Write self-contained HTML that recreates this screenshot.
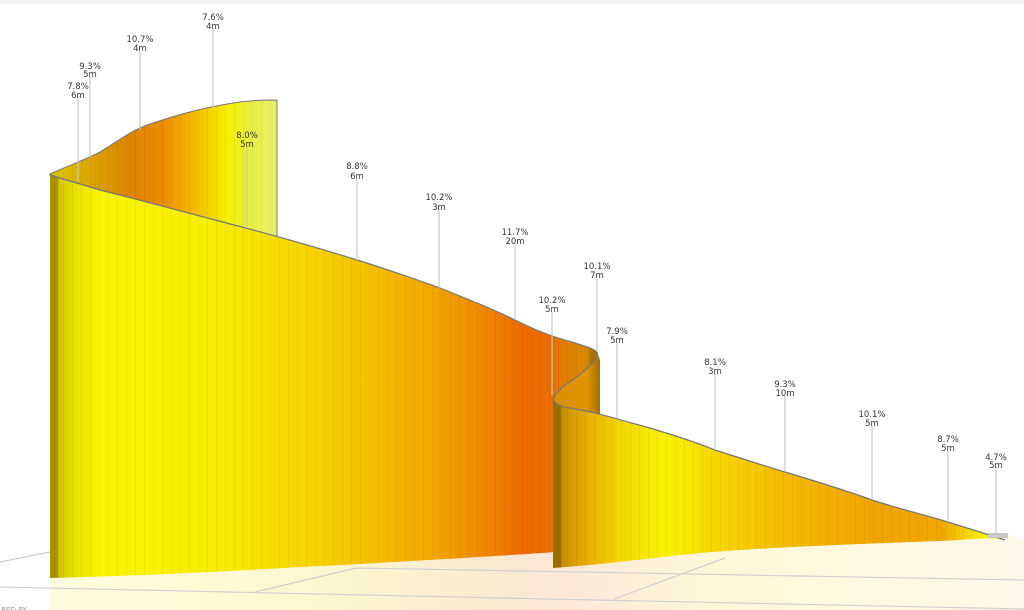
<!DOCTYPE html>
<html><head><meta charset="utf-8"><style>
html,body{margin:0;padding:0;background:#fff;width:1024px;height:610px;overflow:hidden}
svg{display:block}
text{font-family:"DejaVu Sans","Liberation Sans",sans-serif;font-size:8.5px;fill:#333;text-anchor:middle}
</style></head><body>
<svg width="1024" height="610" viewBox="0 0 1024 610" xmlns="http://www.w3.org/2000/svg">
<defs>
<linearGradient id="g1" x1="50" x2="600" y1="0" y2="0" gradientUnits="userSpaceOnUse">
<stop offset="0" stop-color="#a89400"/><stop offset="0.014" stop-color="#a89400"/>
<stop offset="0.016" stop-color="#d0c400"/><stop offset="0.045" stop-color="#e8e000"/>
<stop offset="0.09" stop-color="#fbf500"/><stop offset="0.28" stop-color="#f8ee00"/>
<stop offset="0.42" stop-color="#f6dc00"/><stop offset="0.56" stop-color="#f5c400"/>
<stop offset="0.69" stop-color="#f2a800"/><stop offset="0.8" stop-color="#ef8400"/>
<stop offset="0.86" stop-color="#ec6a00"/><stop offset="0.91" stop-color="#ec6c00"/>
<stop offset="0.93" stop-color="#e07c00"/><stop offset="0.975" stop-color="#d88a00"/>
<stop offset="0.985" stop-color="#a87000"/><stop offset="1" stop-color="#a87000"/>
</linearGradient>
<linearGradient id="gb" x1="50" x2="277" y1="0" y2="0" gradientUnits="userSpaceOnUse">
<stop offset="0" stop-color="#d8c800"/><stop offset="0.2" stop-color="#dca000"/>
<stop offset="0.35" stop-color="#dc8400"/><stop offset="0.5" stop-color="#ec8c00"/>
<stop offset="0.65" stop-color="#f4c000"/><stop offset="0.78" stop-color="#f6f000"/>
<stop offset="0.88" stop-color="#e8ef40"/><stop offset="1" stop-color="#e8f070"/>
</linearGradient>
<linearGradient id="g2" x1="553" x2="1010" y1="0" y2="0" gradientUnits="userSpaceOnUse">
<stop offset="0" stop-color="#9a7000"/><stop offset="0.016" stop-color="#9a7000"/>
<stop offset="0.02" stop-color="#c89000"/><stop offset="0.08" stop-color="#eab000"/>
<stop offset="0.15" stop-color="#f2d800"/><stop offset="0.25" stop-color="#f8f200"/>
<stop offset="0.35" stop-color="#f6d800"/><stop offset="0.5" stop-color="#f4bc00"/>
<stop offset="0.7" stop-color="#f1a400"/><stop offset="0.85" stop-color="#f0a600"/>
<stop offset="0.9" stop-color="#f4d000"/><stop offset="0.95" stop-color="#f8f400"/>
<stop offset="1" stop-color="#e0e060"/>
</linearGradient>
<linearGradient id="gs" x1="556" x2="600" y1="0" y2="0" gradientUnits="userSpaceOnUse">
<stop offset="0" stop-color="#d89000"/><stop offset="0.7" stop-color="#e09400"/><stop offset="1" stop-color="#a07000"/>
</linearGradient>
<linearGradient id="fl" x1="0" x2="1024" y1="0" y2="0" gradientUnits="userSpaceOnUse">
<stop offset="0" stop-color="#fffce0"/><stop offset="0.3" stop-color="#fdf8d0"/>
<stop offset="0.5" stop-color="#fbe8d0"/><stop offset="0.56" stop-color="#fde8d8"/>
<stop offset="0.7" stop-color="#fdf8d8"/><stop offset="1" stop-color="#fff8e8"/>
</linearGradient>
<pattern id="st" width="9" height="10" patternUnits="userSpaceOnUse">
<rect x="0" y="0" width="1" height="10" fill="#000" fill-opacity="0.05"/>
</pattern>
</defs>
<rect x="0" y="0" width="1024" height="4" fill="#f0f0f0"/>
<path d="M50,578 L555,552 L555,568 L700,553 L1010,535 L1024,540 L1024,610 L50,610 Z" fill="url(#fl)"/>
<g stroke="#d0d0d0" stroke-width="1.2" fill="none">
<path d="M0,562 L50,552"/>
<path d="M0,587 L548,599 L1024,609"/>
<path d="M255,592 L356,568 L1024,580"/>
<path d="M614,599 L725,558"/>
</g>
<path d="M50,174 C70,165 85,160 100,152 C120,140 130,131 150,124 C180,114 205,107 240,102 C255,100 268,100 277,100 L277,237 C250,230 230,224 215,220 C180,211 140,200 100,190 C80,184 60,178 50,175 Z" fill="url(#gb)" stroke="#777" stroke-width="1"/>
<path d="M50,174 C70,165 85,160 100,152 C120,140 130,131 150,124 C180,114 205,107 240,102 C255,100 268,100 277,100 L277,237 C250,230 230,224 215,220 C180,211 140,200 100,190 C80,184 60,178 50,175 Z" fill="url(#st)"/>
<path id="r1" d="M50,175 C60,178 80,184 100,190 C140,200 180,211 215,220 C250,229 300,242 357,260 C390,270 415,279 440,288 C470,300 495,310 515,320 C535,330 550,336 575,343 C588,347 594,349 597,352 L600,415 L580,405 C570,400 560,398 556,400 L556,552 C500,556 400,562 300,567 C200,573 100,577 50,578 Z" fill="url(#g1)"/>
<path d="M50,175 C60,178 80,184 100,190 C140,200 180,211 215,220 C250,229 300,242 357,260 C390,270 415,279 440,288 C470,300 495,310 515,320 C535,330 550,336 575,343 C588,347 594,349 597,352 L600,415 L580,405 C570,400 560,398 556,400 L556,552 C500,556 400,562 300,567 C200,573 100,577 50,578 Z" fill="url(#st)"/>
<path d="M50,175 C60,178 80,184 100,190 C140,200 180,211 215,220 C250,229 300,242 357,260 C390,270 415,279 440,288 C470,300 495,310 515,320 C535,330 550,336 575,343 C588,347 594,349 597,352" fill="none" stroke="#777" stroke-width="1.2"/>
<path d="M597,352 C600,357 590,368 568,383 C558,390 554,395 553,400 L553,410 L600,413 L600,360 Z" fill="url(#gs)"/>
<path d="M597,352 C600,357 590,368 568,383 C558,390 554,395 553,400" fill="none" stroke="#777" stroke-width="1.2"/>
<path d="M553,400 C556,405 562,407 575,409 C595,412 620,420 650,428 C680,437 700,444 715,450 C740,458 765,466 785,472 C815,481 845,490 872,500 C900,509 925,515 948,522 C970,529 990,535 1005,540 C995,538 980,538 960,540 C900,543 800,545 700,553 C650,558 600,565 553,568 Z" fill="url(#g2)"/>
<path d="M553,400 C556,405 562,407 575,409 C595,412 620,420 650,428 C680,437 700,444 715,450 C740,458 765,466 785,472 C815,481 845,490 872,500 C900,509 925,515 948,522 C970,529 990,535 1005,540 C995,538 980,538 960,540 C900,543 800,545 700,553 C650,558 600,565 553,568 Z" fill="url(#st)"/>
<path d="M553,400 C556,405 562,407 575,409 C595,412 620,420 650,428 C680,437 700,444 715,450 C740,458 765,466 785,472 C815,481 845,490 872,500 C900,509 925,515 948,522 C970,529 990,535 1005,540" fill="none" stroke="#777" stroke-width="1.2"/>
<rect x="988" y="533" width="20" height="5" fill="#c8c8c8"/>
<g stroke="#c8c8c8" stroke-width="1.2">
<line x1="78" y1="98" x2="78" y2="182"/>
<line x1="90" y1="77" x2="90" y2="158"/>
<line x1="140" y1="51" x2="140" y2="130"/>
<line x1="213" y1="29" x2="213" y2="107"/>
<line x1="247" y1="146" x2="247" y2="228"/>
<line x1="357" y1="179" x2="357" y2="260"/>
<line x1="439" y1="210" x2="439" y2="288"/>
<line x1="515" y1="244" x2="515" y2="320"/>
<line x1="552" y1="312" x2="552" y2="395"/>
<line x1="597" y1="278" x2="597" y2="352"/>
<line x1="617" y1="343" x2="617" y2="418"/>
<line x1="715" y1="374" x2="715" y2="450"/>
<line x1="785" y1="396" x2="785" y2="472"/>
<line x1="872" y1="426" x2="872" y2="500"/>
<line x1="948" y1="451" x2="948" y2="522"/>
<line x1="996" y1="467" x2="996" y2="538"/>
</g>
<g>
<text x="78" y="89">7.8%</text><text x="78" y="98">6m</text>
<text x="90" y="69">9.3%</text><text x="90" y="77">5m</text>
<text x="140" y="42">10.7%</text><text x="140" y="51">4m</text>
<text x="213" y="20">7.6%</text><text x="213" y="29">4m</text>
<text x="247" y="138">8.0%</text><text x="247" y="147">5m</text>
<text x="357" y="169">8.8%</text><text x="357" y="179">6m</text>
<text x="439" y="200">10.2%</text><text x="439" y="210">3m</text>
<text x="515" y="235">11.7%</text><text x="515" y="244">20m</text>
<text x="552" y="303">10.2%</text><text x="552" y="312">5m</text>
<text x="597" y="269">10.1%</text><text x="597" y="278">7m</text>
<text x="617" y="334">7.9%</text><text x="617" y="343">5m</text>
<text x="715" y="365">8.1%</text><text x="715" y="374">3m</text>
<text x="785" y="387">9.3%</text><text x="785" y="396">10m</text>
<text x="872" y="417">10.1%</text><text x="872" y="426">5m</text>
<text x="948" y="442">8.7%</text><text x="948" y="451">5m</text>
<text x="996" y="460">4.7%</text><text x="996" y="468">5m</text>
</g>
<text x="14" y="612" style="font-size:7px;fill:#999">RED BY</text>
</svg>
</body></html>
